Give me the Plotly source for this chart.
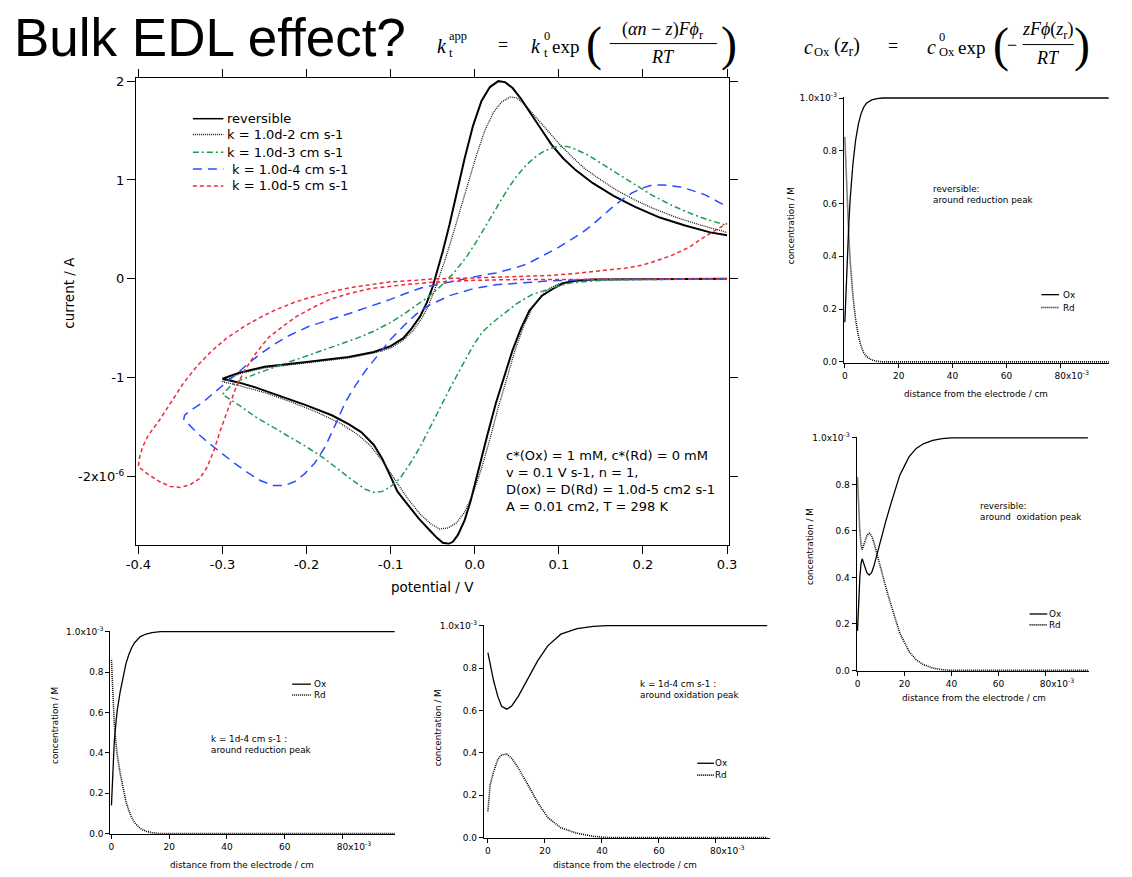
import plotly.graph_objects as go

W, H = 1132, 877

# ---------------- main CV data: (potential / V, current / 1e-6 A) along the scan ----------------
rev_loop = [(0.30, 0.0), (0.20, -0.002), (0.14, -0.007), (0.12, -0.02), (0.105, -0.045), (0.095, -0.09),
            (0.08, -0.17), (0.065, -0.32), (0.055, -0.5), (0.045, -0.72), (0.035, -0.98), (0.025, -1.26),
            (0.015, -1.58), (0.005, -1.93), (-0.005, -2.25), (-0.012, -2.44), (-0.02, -2.59), (-0.026, -2.66),
            (-0.031, -2.68), (-0.038, -2.67), (-0.045, -2.62), (-0.055, -2.53), (-0.067, -2.42), (-0.08, -2.28),
            (-0.092, -2.15), (-0.1, -2.0), (-0.11, -1.82), (-0.12, -1.68), (-0.135, -1.55), (-0.15, -1.47),
            (-0.17, -1.38), (-0.2, -1.28), (-0.23, -1.19), (-0.26, -1.1), (-0.28, -1.05), (-0.30, -1.01),
            (-0.28, -0.95), (-0.25, -0.89), (-0.2, -0.84), (-0.15, -0.79), (-0.12, -0.74), (-0.1, -0.68),
            (-0.085, -0.6), (-0.075, -0.5), (-0.065, -0.38), (-0.057, -0.24), (-0.05, -0.08), (-0.044, 0.1),
            (-0.038, 0.28), (-0.03, 0.55), (-0.022, 0.85), (-0.012, 1.22), (-0.002, 1.55), (0.008, 1.8),
            (0.018, 1.94), (0.028, 2.0), (0.036, 1.99), (0.045, 1.93), (0.055, 1.82), (0.067, 1.66),
            (0.08, 1.5), (0.091, 1.36), (0.105, 1.22), (0.12, 1.1), (0.14, 0.97), (0.165, 0.84),
            (0.19, 0.73), (0.22, 0.62), (0.25, 0.54), (0.28, 0.47), (0.30, 0.44)]

k2_loop = [(0.3, 0.0), (0.2, -0.002), (0.14, -0.008), (0.115, -0.025), (0.1, -0.05), (0.088, -0.1),
           (0.078, -0.18), (0.068, -0.3), (0.058, -0.48), (0.048, -0.72), (0.038, -1.0), (0.028, -1.3),
           (0.018, -1.62), (0.008, -1.92), (-0.002, -2.17), (-0.012, -2.36), (-0.022, -2.47), (-0.032, -2.52),
           (-0.042, -2.53), (-0.052, -2.48), (-0.065, -2.38), (-0.08, -2.22), (-0.095, -2.03), (-0.11, -1.84),
           (-0.125, -1.68), (-0.14, -1.57), (-0.16, -1.46), (-0.19, -1.34), (-0.22, -1.24), (-0.25, -1.15),
           (-0.28, -1.08), (-0.3, -1.04),
           (-0.28, -0.96), (-0.25, -0.9), (-0.2, -0.85), (-0.15, -0.8), (-0.12, -0.75), (-0.1, -0.7),
           (-0.085, -0.62), (-0.073, -0.52), (-0.063, -0.4), (-0.055, -0.27), (-0.048, -0.12), (-0.042, 0.02),
           (-0.035, 0.2), (-0.027, 0.42), (-0.018, 0.68), (-0.008, 0.97), (0.002, 1.25), (0.012, 1.5),
           (0.022, 1.68), (0.032, 1.79), (0.042, 1.84), (0.05, 1.83), (0.06, 1.76), (0.07, 1.66),
           (0.08, 1.56), (0.09, 1.46), (0.1, 1.37), (0.115, 1.24), (0.13, 1.12), (0.15, 1.0),
           (0.17, 0.89), (0.19, 0.8), (0.21, 0.72), (0.24, 0.62), (0.27, 0.54), (0.3, 0.47)]

k3_loop = [(0.3, 0.0), (0.2, -0.003), (0.16, -0.01), (0.135, -0.025), (0.115, -0.04), (0.1, -0.07),
           (0.085, -0.11), (0.068, -0.16), (0.05, -0.25), (0.033, -0.36), (0.02, -0.45), (0.009, -0.54),
           (0.0, -0.65), (-0.01, -0.8), (-0.018, -0.92), (-0.029, -1.1), (-0.041, -1.3), (-0.053, -1.5),
           (-0.065, -1.7), (-0.077, -1.87), (-0.089, -2.02), (-0.1, -2.1), (-0.11, -2.15), (-0.12, -2.16),
           (-0.13, -2.13), (-0.145, -2.04), (-0.16, -1.94), (-0.18, -1.81), (-0.2, -1.7), (-0.22, -1.6),
           (-0.24, -1.5), (-0.26, -1.4), (-0.28, -1.28), (-0.3, -1.17),
           (-0.29, -1.08), (-0.28, -1.03), (-0.26, -0.96), (-0.24, -0.9), (-0.22, -0.84), (-0.2, -0.78),
           (-0.17, -0.69), (-0.14, -0.6), (-0.12, -0.53), (-0.1, -0.44), (-0.085, -0.36), (-0.07, -0.27),
           (-0.055, -0.18), (-0.045, -0.11), (-0.035, -0.03), (-0.024, 0.07), (-0.01, 0.22), (0.0, 0.35),
           (0.01, 0.49), (0.02, 0.63), (0.03, 0.78), (0.04, 0.92), (0.05, 1.04), (0.06, 1.14),
           (0.07, 1.22), (0.08, 1.28), (0.09, 1.32), (0.1, 1.34), (0.11, 1.34), (0.12, 1.31),
           (0.135, 1.25), (0.15, 1.17), (0.17, 1.06), (0.19, 0.95), (0.21, 0.85), (0.235, 0.74),
           (0.26, 0.65), (0.28, 0.59), (0.3, 0.54)]

k4_loop = [(0.3, 0.0), (0.15, -0.005), (0.09, -0.02), (0.052, -0.04), (0.025, -0.06), (-0.002, -0.1),
           (-0.03, -0.17), (-0.055, -0.27), (-0.07, -0.36), (-0.085, -0.48), (-0.101, -0.62), (-0.115, -0.77),
           (-0.13, -0.93), (-0.142, -1.08), (-0.154, -1.25), (-0.166, -1.48), (-0.178, -1.7), (-0.19, -1.86),
           (-0.202, -1.97), (-0.214, -2.05), (-0.226, -2.09), (-0.24, -2.09), (-0.255, -2.04), (-0.27, -1.96),
           (-0.285, -1.87), (-0.3, -1.77), (-0.315, -1.67), (-0.33, -1.56), (-0.341, -1.47), (-0.346, -1.42),
           (-0.345, -1.38), (-0.338, -1.33), (-0.325, -1.26), (-0.308, -1.14), (-0.29, -1.01), (-0.279, -0.93),
           (-0.267, -0.84), (-0.255, -0.76), (-0.24, -0.67), (-0.22, -0.57), (-0.197, -0.48), (-0.17, -0.41),
           (-0.149, -0.35), (-0.125, -0.28), (-0.101, -0.21), (-0.08, -0.14), (-0.063, -0.09), (-0.045, -0.06),
           (-0.029, -0.03), (-0.01, 0.0), (0.005, 0.03), (0.025, 0.06), (0.048, 0.11), (0.062, 0.15),
           (0.076, 0.21), (0.09, 0.27), (0.1, 0.32), (0.115, 0.4), (0.128, 0.47), (0.139, 0.54),
           (0.151, 0.63), (0.163, 0.72), (0.175, 0.8), (0.187, 0.87), (0.2, 0.92), (0.211, 0.95),
           (0.225, 0.95), (0.245, 0.93), (0.26, 0.89), (0.274, 0.85), (0.287, 0.79), (0.3, 0.73)]

k5_loop = [(0.3, 0.0), (0.1, -0.003), (0.04, -0.008), (0.0, -0.015), (-0.05, -0.035), (-0.08, -0.055),
           (-0.1, -0.075), (-0.125, -0.1), (-0.15, -0.15), (-0.173, -0.21), (-0.19, -0.28), (-0.212, -0.38),
           (-0.228, -0.48), (-0.245, -0.59), (-0.26, -0.75), (-0.274, -0.93), (-0.284, -1.1), (-0.293, -1.31),
           (-0.302, -1.52), (-0.31, -1.73), (-0.318, -1.9), (-0.327, -2.02), (-0.338, -2.08), (-0.35, -2.11),
           (-0.362, -2.1), (-0.375, -2.05), (-0.388, -1.98), (-0.4, -1.9),
           (-0.399, -1.82), (-0.395, -1.7), (-0.388, -1.58), (-0.375, -1.43), (-0.36, -1.24), (-0.346, -1.05),
           (-0.33, -0.88), (-0.313, -0.73), (-0.295, -0.6), (-0.274, -0.48), (-0.255, -0.39), (-0.236, -0.31),
           (-0.215, -0.24), (-0.197, -0.19), (-0.17, -0.13), (-0.149, -0.09), (-0.125, -0.06), (-0.1, -0.03),
           (-0.07, -0.015), (-0.05, 0.0), (0.0, 0.01), (0.05, 0.02), (0.091, 0.035), (0.12, 0.055),
           (0.14, 0.07), (0.158, 0.09), (0.18, 0.11), (0.2, 0.14), (0.215, 0.18), (0.235, 0.24),
           (0.255, 0.32), (0.274, 0.43), (0.288, 0.5), (0.3, 0.56)]

cv_names = ["reversible", "k = 1.0d-2 cm s-1", "k = 1.0d-3 cm s-1", "k = 1.0d-4 cm s-1", "k = 1.0d-5 cm s-1"]
cv_x_ticks = [-0.4, -0.3, -0.2, -0.1, 0.0, 0.1, 0.2, 0.3]
cv_x_ticktext = ["-0.4", "-0.3", "-0.2", "-0.1", "0.0", "0.1", "0.2", "0.3"]
cv_y_ticks = [-2, -1, 0, 1, 2]
cv_y_ticktext = ["-2x10<sup>-6</sup>", "-1", "0", "1", "2"]
cv_info = ["c*(Ox) = 1 mM, c*(Rd) = 0 mM", "v = 0.1 V s-1, n = 1,",
           "D(ox) = D(Rd) = 1.0d-5 cm2 s-1", "A = 0.01 cm2, T = 298 K"]

# ---------------- concentration profiles: distance / 1e-3 cm, concentration / 1e-3 M ----------------
tr_x = [0, 0.5, 1, 1.5, 2, 3, 4, 5, 6, 7, 8, 10, 12, 14, 98]
tr_ox = [0.15, 0.3, 0.42, 0.53, 0.62, 0.75, 0.84, 0.9, 0.94, 0.965, 0.98, 0.993, 0.998, 1.0, 1.0]
tr_rd = [0.85, 0.7, 0.58, 0.47, 0.38, 0.25, 0.16, 0.1, 0.06, 0.035, 0.02, 0.007, 0.002, 0.0, 0.0]

mr_x = [0, 0.5, 1, 1.5, 2, 3, 4, 5, 6, 7, 8, 10, 12, 14, 16, 18, 20, 22, 25, 28, 32, 36, 40, 98]
mr_ox = [0.17, 0.3, 0.4, 0.46, 0.48, 0.45, 0.42, 0.41, 0.42, 0.45, 0.49, 0.56, 0.64, 0.71, 0.78, 0.84,
         0.88, 0.92, 0.955, 0.975, 0.99, 0.997, 1.0, 1.0]
mr_rd = [0.83, 0.7, 0.6, 0.54, 0.52, 0.55, 0.58, 0.59, 0.58, 0.55, 0.51, 0.44, 0.36, 0.29, 0.22, 0.16,
         0.12, 0.08, 0.045, 0.025, 0.01, 0.003, 0.0, 0.0]

bl_x = [0, 0.5, 1, 1.5, 2, 3, 4, 5, 6, 7, 8, 10, 12, 14, 17, 98]
bl_ox = [0.14, 0.33, 0.46, 0.54, 0.61, 0.7, 0.78, 0.84, 0.885, 0.92, 0.945, 0.975, 0.988, 0.995, 1.0, 1.0]
bl_rd = [0.86, 0.67, 0.54, 0.46, 0.39, 0.3, 0.22, 0.16, 0.115, 0.08, 0.055, 0.025, 0.012, 0.005, 0.0, 0.0]

bm_x = [0, 0.8, 2, 3.5, 4.8, 6.6, 8.3, 10.6, 14, 17.5, 21, 25.6, 31.3, 37, 41.7, 98]
bm_ox = [0.873, 0.82, 0.74, 0.665, 0.62, 0.606, 0.62, 0.665, 0.75, 0.835, 0.905, 0.96, 0.986, 0.997, 1.0, 1.0]
bm_rd = [0.124, 0.25, 0.31, 0.37, 0.39, 0.394, 0.375, 0.33, 0.25, 0.165, 0.095, 0.046, 0.02, 0.006, 0.0, 0.0]

prof_x_ticks = [0, 20, 40, 60, 80]
prof_x_ticktext = ["0", "20", "40", "60", "\u2007\u2007\u2007\u200780x10<sup>-3</sup>"]
prof_y_ticks = [0, 0.2, 0.4, 0.6, 0.8, 1.0]
prof_y_ticktext = ["0.0", "0.2", "0.4", "0.6", "0.8", "1.0x10<sup>-3</sup>"]
prof_notes = ["reversible:<br>around reduction peak", "reversible:<br>around  oxidation peak",
              "k = 1d-4 cm s-1 :<br>around reduction peak", "k = 1d-4 cm s-1 :<br>around oxidation peak"]

# ---------------- helpers (positions in page pixels) ----------------
SANS = "DejaVu Sans, Verdana, sans-serif"
TITLE_FONT = "Liberation Sans, Arial, Helvetica, sans-serif"
SERIF = "Liberation Serif, DejaVu Serif, Times New Roman, serif"
LPAD = 3


def fx(p):
    return p / W


def fy(p):
    return 1 - p / H


annotations = []
shapes = []


def text(t, x, y, size, family=SANS, xa="left", ya="middle", angle=0, align="left"):
    if xa == "left":
        x = x - LPAD
    annotations.append(dict(text=t, x=fx(x), y=fy(y), xref="paper", yref="paper", xanchor=xa, yanchor=ya,
                            showarrow=False, textangle=angle, align=align,
                            font=dict(family=family, size=size, color="black")))


def hline(x0, x1, y, color="black", width=1, dash="solid"):
    shapes.append(dict(type="line", xref="paper", yref="paper", x0=fx(x0), x1=fx(x1), y0=fy(y), y1=fy(y),
                       line=dict(color=color, width=width, dash=dash)))


fig = go.Figure()

# ---------------- main CV ----------------
cv_loops = [rev_loop, k2_loop, k3_loop, k4_loop, k5_loop]
cv_colors = ["black", "#1a1a1a", "#1f9a52", "#2a4cff", "#f0283c"]
cv_widths = [2.0, 1.3, 1.5, 1.5, 1.5]
cv_dashes = ["solid", "1px,1px", "6px,3px,2px,3px", "9px,6px", "4px,3px"]
for name, loop, c, w, d in zip(cv_names, cv_loops, cv_colors, cv_widths, cv_dashes):
    E = [p[0] for p in loop]
    I = [p[1] for p in loop]
    fig.add_trace(go.Scatter(x=E, y=I, mode="lines", name=name, showlegend=False,
                             line=dict(color=c, width=w, dash=d), xaxis="x", yaxis="y"))

# legend of the CV panel
leg_y = [114, 130, 148, 165, 182]
leg_tx = [222, 222, 222, 227, 227]
leg_w = [1.5, 1.3, 1.5, 1.5, 1.5]
for name, c, w, d, yy, tx in zip(cv_names, cv_colors, leg_w, cv_dashes, leg_y, leg_tx):
    hline(186, 217, yy, color=c, width=w, dash=d)
    text(name, tx, yy, 13)

text("<br>".join(cv_info), 505, 445, 13, ya="top")
text("potential / V", 430, 588, 13.5, xa="center")
text("current / A", 60, 290, 13.5, xa="center", angle=-90)

# ---------------- concentration panels ----------------
panels = [
    dict(x=tr_x, ox=tr_ox, rd=tr_rd, xd=(848, 1118), yd=(92, 361), xr=[-0.4, 98.2],
         note=(940, 191), leg=(1049, 1067, 1072, 292, 305), ytit=(795, 222), xtit=(982, 392)),
    dict(x=mr_x, ox=mr_ox, rd=mr_rd, xd=(861, 1097), yd=(436, 673), xr=[-0.4, 98.3],
         note=(988, 511), leg=(1037, 1055, 1058, 615, 626), ytit=(813, 547), xtit=(980, 700)),
    dict(x=bl_x, ox=bl_ox, rd=bl_rd, xd=(102, 392), yd=(632, 838), xr=[-0.4, 98.3],
         note=(205, 747), leg=(287, 306, 310, 686, 697), ytit=(45, 728), xtit=(236, 869)),
    dict(x=bm_x, ox=bm_ox, rd=bm_rd, xd=(482, 773), yd=(626, 842), xr=[-1.4, 99.0],
         note=(642, 691), leg=(699, 716, 718, 766, 778), ytit=(435, 730), xtit=(625, 869)),
]

layout_axes = {}
for i, (p, note) in enumerate(zip(panels, prof_notes)):
    n = i + 2
    xa, ya = "x%d" % n, "y%d" % n
    fig.add_trace(go.Scatter(x=p["x"], y=p["ox"], mode="lines", name="Ox", showlegend=False,
                             line=dict(color="black", width=1.3), xaxis=xa, yaxis=ya))
    fig.add_trace(go.Scatter(x=p["x"], y=p["rd"], mode="lines", name="Rd", showlegend=False,
                             line=dict(color="black", width=1.6, dash="1px,1px"), xaxis=xa, yaxis=ya))
    common = dict(showline=True, linecolor="black", linewidth=1, ticks="outside", ticklen=4, tickwidth=1,
                  tickcolor="black", showgrid=False, zeroline=False,
                  tickfont=dict(family=SANS, size=9, color="black"))
    layout_axes["xaxis%d" % n] = dict(common, domain=[fx(p["xd"][0]), fx(p["xd"][1])], range=p["xr"],
                                      tickvals=prof_x_ticks, ticktext=prof_x_ticktext, anchor=ya)
    layout_axes["yaxis%d" % n] = dict(common, domain=[fy(p["yd"][1]), fy(p["yd"][0])], range=[-0.004, 1.004],
                                      tickvals=prof_y_ticks, ticktext=prof_y_ticktext, anchor=xa)
    text(note, p["note"][0], p["note"][1], 8.8)
    lx0, lx1, ltx, ly1, ly2 = p["leg"]
    hline(lx0, lx1, ly1, width=1.3)
    hline(lx0, lx1, ly2, width=1.6, dash="1px,1px")
    text("Ox", ltx, ly1, 8.8)
    text("Rd", ltx, ly2, 8.8)
    text("concentration / M", p["ytit"][0], p["ytit"][1], 8.8, xa="center", angle=-90)
    text("distance from the electrode / cm", p["xtit"][0], p["xtit"][1], 8.8, xa="center")

# ---------------- title and equations ----------------
text("Bulk EDL effect?", 5, 32, 53, TITLE_FONT)

# k_t^app = k_t^0 exp( (alpha n - z) F phi_r / RT )
text("<i>k</i>", 435, 40, 20, SERIF)
text("app", 447, 30, 12.5, SERIF)
text("t", 447, 48, 12.5, SERIF)
text("=", 497, 39, 18, SERIF)
text("<i>k</i>", 531, 40, 20, SERIF)
text("0", 544, 30, 12.5, SERIF)
text("t", 544, 48, 12.5, SERIF)
text("exp", 552, 41, 19, SERIF)
text("(", 587, 38, 48, SERIF)
text("(<i>αn</i> − <i>z</i>)<i>Fϕ</i><sub>r</sub>", 664, 25, 18, SERIF, xa="center")
hline(610, 719, 38, width=1)
text("<i>RT</i>", 664, 52, 18, SERIF, xa="center")
text(")", 724, 38, 48, SERIF)

# c_Ox(z_r) = c_Ox^0 exp( - z F phi(z_r) / RT )
text("<i>c</i>", 809, 41, 20, SERIF)
text("Ox", 819, 47, 12.5, SERIF)
text("(<i>z</i><sub>r</sub>)", 839, 41, 20, SERIF)
text("=", 894, 40, 18, SERIF)
text("<i>c</i>", 934, 41, 20, SERIF)
text("0", 946, 31, 12.5, SERIF)
text("Ox", 946, 47, 12.5, SERIF)
text("exp", 965, 42, 19, SERIF)
text("(", 1001, 39, 48, SERIF)
text("−", 1015, 39, 18, SERIF)
text("<i>zFϕ</i>(<i>z</i><sub>r</sub>)", 1056, 25, 18, SERIF, xa="center")
hline(1030, 1082, 39, width=1)
text("<i>RT</i>", 1056, 53, 18, SERIF, xa="center")
text(")", 1083, 39, 48, SERIF)

main_axis = dict(showline=True, linecolor="black", linewidth=1, mirror="ticks", ticks="outside", ticklen=8,
                 tickwidth=1, tickcolor="black", showgrid=False, zeroline=False,
                 tickfont=dict(family=SANS, size=13, color="black"))

fig.update_layout(
    width=W, height=H, autosize=False,
    margin=dict(l=0, r=0, t=0, b=0, pad=0),
    paper_bgcolor="white", plot_bgcolor="white",
    showlegend=False,
    font=dict(family=SANS, color="black"),
    xaxis=dict(main_axis, domain=[fx(128), fx(731)], range=[-0.403, 0.302],
               tickvals=cv_x_ticks, ticktext=cv_x_ticktext, anchor="y"),
    yaxis=dict(main_axis, domain=[fy(545), fy(73)], range=[-2.69, 2.03],
               tickvals=cv_y_ticks, ticktext=cv_y_ticktext, anchor="x"),
    annotations=annotations,
    shapes=shapes,
    **layout_axes,
)

fig.write_html("out.html", config={"displayModeBar": False},
               post_script="document.body.style.margin='0';")
